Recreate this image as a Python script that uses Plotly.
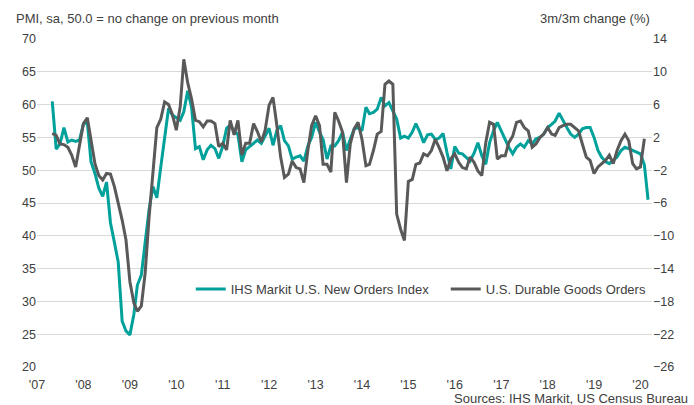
import plotly.graph_objects as go
import pandas as pd

# Monthly data, May 2007 onwards
pmi_new_orders = [
    60.5, 53.2, 54.0, 56.5, 54.3, 54.6, 54.4, 54.6,            # 2007 May-Dec
    57.0, 57.3, 51.3, 49.5, 47.3, 46.0, 48.2, 42.0, 39.0, 36.0, 27.0, 25.5,  # 2008
    24.9, 28.0, 32.5, 34.0, 39.0, 44.0, 47.5, 45.8, 50.5, 54.5, 59.4, 58.4,  # 2009
    58.0, 57.6, 58.9, 62.1, 59.6, 53.3, 53.6, 51.6, 53.1, 53.8, 53.3, 51.8,  # 2010
    53.6, 56.4, 56.9, 56.0, 55.4, 51.3, 53.1, 53.6, 54.1, 54.6, 54.1, 55.2,  # 2011
    56.4, 53.8, 56.0, 56.8, 54.5, 53.7, 51.7, 52.0, 52.2, 51.4, 53.7, 55.0,  # 2012
    57.3, 55.8, 54.7, 51.7, 53.7, 53.7, 54.5, 55.8, 53.0, 54.7, 56.3, 56.5,  # 2013
    56.0, 59.6, 58.6, 58.8, 59.3, 61.1, 59.8, 60.3, 59.1, 57.8, 54.9, 55.2,  # 2014
    54.9, 55.8, 57.1, 55.8, 54.2, 55.4, 55.5, 54.7, 54.9, 55.6, 52.7, 50.2,  # 2015
    53.6, 52.6, 52.5, 52.0, 51.4, 52.6, 54.2, 52.2, 50.9, 54.2, 56.0, 57.3,  # 2016
    56.0, 54.7, 53.5, 52.5, 53.5, 54.0, 53.5, 54.5, 54.0, 54.8, 55.0, 55.5,  # 2017
    56.5, 57.0, 57.5, 58.7, 57.5, 56.5, 55.5, 55.0, 55.5, 56.3, 56.5, 56.5,  # 2018
    55.0, 53.0, 52.0, 51.3, 51.0, 51.5, 52.0, 53.0, 53.5, 53.3, 53.0, 52.8,  # 2019
    52.5, 50.8, 45.5,                                                        # 2020
]

# Durable goods, read on the PMI scale, then converted to 3m/3m %
durable_goods_read = [
    55.6, 55.3, 54.0, 53.9, 53.5, 52.3, 50.5, 53.5,
    57.1, 58.0, 54.5, 51.0, 49.2, 48.5, 49.5, 49.4, 47.5, 45.2, 42.4, 39.4,
    33.0, 29.8, 28.5, 29.3, 34.3, 42.9, 50.0, 56.5, 57.8, 60.4, 60.0, 58.5,
    56.1, 59.7, 66.9, 63.3, 60.9, 57.6, 57.4, 56.6, 57.5, 57.5, 57.1, 53.6,
    54.1, 53.1, 57.6, 55.4, 57.6, 52.3, 54.1, 54.1, 57.1, 55.9, 54.3, 56.1,
    59.9, 61.1, 57.0, 52.0, 48.9, 49.4, 51.4, 50.4, 50.2, 48.1, 53.0, 56.8,
    58.3, 56.8, 50.9, 50.9, 49.7, 58.8, 57.5, 55.8, 48.1, 54.0, 56.3, 57.3,
    54.7, 50.7, 50.9, 53.0, 55.5, 55.9, 63.1, 63.6, 63.1, 43.3, 41.0, 39.3,
    48.3, 48.6, 50.9, 51.1, 52.5, 52.2, 53.0, 54.7, 53.4, 52.0, 49.9, 51.7,
    52.5, 51.2, 50.4, 50.2, 52.0, 51.2, 49.9, 49.2, 54.2, 57.3, 57.0, 51.7,
    52.2, 52.2, 54.2, 55.2, 57.3, 57.5, 56.5, 56.0, 53.5, 54.0, 55.0, 55.5,
    56.5, 55.5, 55.3, 56.5, 56.8, 57.0, 57.0, 56.5, 56.0, 54.0, 52.0, 51.5,
    49.5, 50.5, 51.0, 51.5, 52.3, 51.0, 53.0, 54.5, 55.5, 54.5, 51.0, 50.2,
    50.5, 54.8,
]
durable_goods_pct = [round(0.8 * v - 42, 2) for v in durable_goods_read]

year_ticks = [f"{y}-01-01" for y in range(2007, 2021)]
year_labels = [f"'{str(y)[2:]}" for y in range(2007, 2021)]

dates_pmi = pd.date_range("2007-05-01", periods=len(pmi_new_orders), freq="MS")
dates_dg = pd.date_range("2007-05-01", periods=len(durable_goods_pct), freq="MS")

TEAL = "#00A19B"
GREY = "#595959"
FONT = "Liberation Sans, Arial, sans-serif"
TXT = "#404040"

fig = go.Figure()
fig.add_trace(go.Scatter(x=dates_pmi, y=pmi_new_orders, mode="lines",
                         name="IHS Markit U.S. New Orders Index",
                         line=dict(color=TEAL, width=3)))
fig.add_trace(go.Scatter(x=dates_dg, y=durable_goods_pct, mode="lines",
                         name="U.S. Durable Goods Orders", yaxis="y2",
                         line=dict(color=GREY, width=3)))

fig.update_layout(
    width=694, height=405,
    margin=dict(l=37, r=42, t=39, b=38, autoexpand=False),
    paper_bgcolor="white", plot_bgcolor="white",
    font=dict(family=FONT, size=12, color=TXT),
    showlegend=True,
    legend=dict(orientation="h", x=0.25, y=0.238, xanchor="left", yanchor="middle",
                bgcolor="rgba(255,255,255,0)", font=dict(size=13, color=TXT),
                itemwidth=30, tracegroupgap=0, entrywidth=210),
    xaxis=dict(type="date", range=["2007-01-01", "2020-04-01"],
               tickvals=year_ticks, ticktext=year_labels,
               showgrid=False, zeroline=False, showline=False, ticks="",
               ticklabelstandoff=8,
               tickfont=dict(size=12.5, color=TXT)),
    yaxis=dict(range=[20, 70], dtick=5, tick0=20, showgrid=True,
               gridcolor="#D9D9D9", gridwidth=1, zeroline=False,
               ticks="", tickfont=dict(size=12.5, color=TXT)),
    yaxis2=dict(range=[-26, 14], dtick=4, tick0=-26, overlaying="y", side="right",
                showgrid=False, zeroline=False, ticks="",
                tickfont=dict(size=12.5, color=TXT)),
    annotations=[
        dict(text="PMI, sa, 50.0 = no change on previous month", xref="paper", yref="paper",
             x=-0.038, y=1.0, xanchor="left", yanchor="bottom", yshift=11,
             showarrow=False, font=dict(size=13, color=TXT)),
        dict(text="3m/3m change (%)", xref="paper", yref="paper",
             x=1.0, y=1.0, xanchor="right", yanchor="bottom", yshift=11,
             showarrow=False, font=dict(size=13, color=TXT)),
        dict(text="Sources: IHS Markit, US Census Bureau", xref="paper", yref="paper",
             x=1.062, y=0, xanchor="right", yanchor="top", yshift=-22,
             showarrow=False, font=dict(size=13, color=TXT)),
    ],
)

fig.write_html("out.html", config={"displayModeBar": False},
               post_script="document.body.style.margin='0';")
